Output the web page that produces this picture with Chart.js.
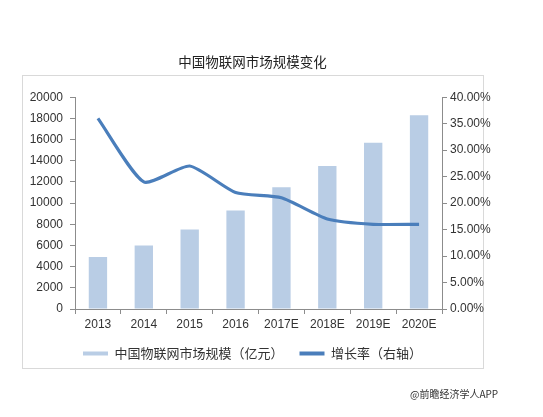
<!DOCTYPE html>
<html>
<head>
<meta charset="utf-8">
<script src="https://cdn.jsdelivr.net/npm/chart.js@4/dist/chart.umd.min.js"></script>
<style>
  body { margin: 0; background: #fff; width: 543px; height: 417px; overflow: hidden; position: relative; }
  #frame { position: absolute; left: 22px; top: 75px; width: 460px; height: 292px; border: 1px solid #d9d9d9; }
  #wrap { position: absolute; left: 0; top: 0; width: 505px; height: 417px; }
  #mark { position: absolute; left: 410px; top: 386px; font: 10px "Noto Sans CJK SC", sans-serif; color: #333; }
</style>
</head>
<body>
<div id="frame"></div>
<div id="wrap"><canvas id="iotChart"></canvas></div>
<div id="mark">@前瞻经济学人APP</div>
<script>
var years = ["2013", "2014", "2015", "2016", "2017E", "2018E", "2019E", "2020E"];
var marketSize = [4900, 6000, 7500, 9300, 11500, 13500, 15700, 18300];
var growthRate = [36, 24, 27, 22, 21, 17, 16, 16];

var axisGray = "#8c8c8c";
var tickFont = { family: "'Liberation Sans', Arial, sans-serif", size: 12 };

var ctx = document.getElementById("iotChart");
var chart = new Chart(ctx, {
  type: "bar",
  data: {
    labels: years,
    datasets: [{
      label: "中国物联网市场规模（亿元）",
      data: marketSize,
      backgroundColor: "#b9cde5",
      borderColor: "#b9cde5",
      borderWidth: 0,
      barPercentage: 0.4,
      categoryPercentage: 1,
      yAxisID: "y",
      order: 2
    }, {
      type: "line",
      label: "增长率（右轴）",
      data: growthRate,
      borderColor: "#4a7ebb",
      backgroundColor: "#4a7ebb",
      borderWidth: 3.2,
      tension: 0.2,
      pointRadius: 0,
      fill: false,
      yAxisID: "y1",
      order: 1
    }]
  },
  options: {
    responsive: true,
    maintainAspectRatio: false,
    animation: false,
    layout: { padding: { left: 0, right: 0, top: 0, bottom: 47 } },
    plugins: {
      title: {
        display: true,
        text: "中国物联网市场规模变化",
        color: "#222",
        font: { family: "'Noto Sans CJK SC', sans-serif", size: 13.5, weight: "normal" },
        padding: { top: 54, bottom: 27 }
      },
      legend: {
        position: "bottom",
        labels: {
          boxWidth: 25,
          boxHeight: 4,
          padding: 16,
          color: "#333",
          font: { family: "'Noto Sans CJK SC', sans-serif", size: 13 },
          sort: function (a, b) { return a.datasetIndex - b.datasetIndex; },
          generateLabels: function (c) {
            var items = Chart.defaults.plugins.legend.labels.generateLabels(c);
            items.forEach(function (it) { it.lineWidth = 0; it.fillStyle = it.strokeStyle; });
            return items;
          }
        }
      },
      tooltip: { enabled: false }
    },
    scales: {
      x: {
        grid: { drawOnChartArea: false, drawTicks: true, tickLength: 5, color: axisGray, offset: true },
        border: { display: true, color: axisGray },
        ticks: { color: "#333", font: tickFont, padding: 3, maxRotation: 0 },
        afterFit: function (s) { s.height = 22; }
      },
      y: {
        position: "left",
        min: 0,
        max: 20000,
        ticks: {
          stepSize: 2000, color: "#333", font: tickFont, padding: 7,
          callback: function (v) { return String(v); }
        },
        grid: { drawOnChartArea: false, tickLength: 5, color: axisGray },
        border: { display: true, color: axisGray },
        afterFit: function (s) { s.width = 75; }
      },
      y1: {
        position: "right",
        min: 0,
        max: 40,
        ticks: {
          stepSize: 5, color: "#333", font: tickFont, padding: 3,
          callback: function (v) { return v.toFixed(2) + "%"; }
        },
        grid: { drawOnChartArea: false, tickLength: 5, color: axisGray },
        border: { display: true, color: axisGray },
        afterFit: function (s) { s.width = 63; }
      }
    }
  }
});
</script>
</body>
</html>
